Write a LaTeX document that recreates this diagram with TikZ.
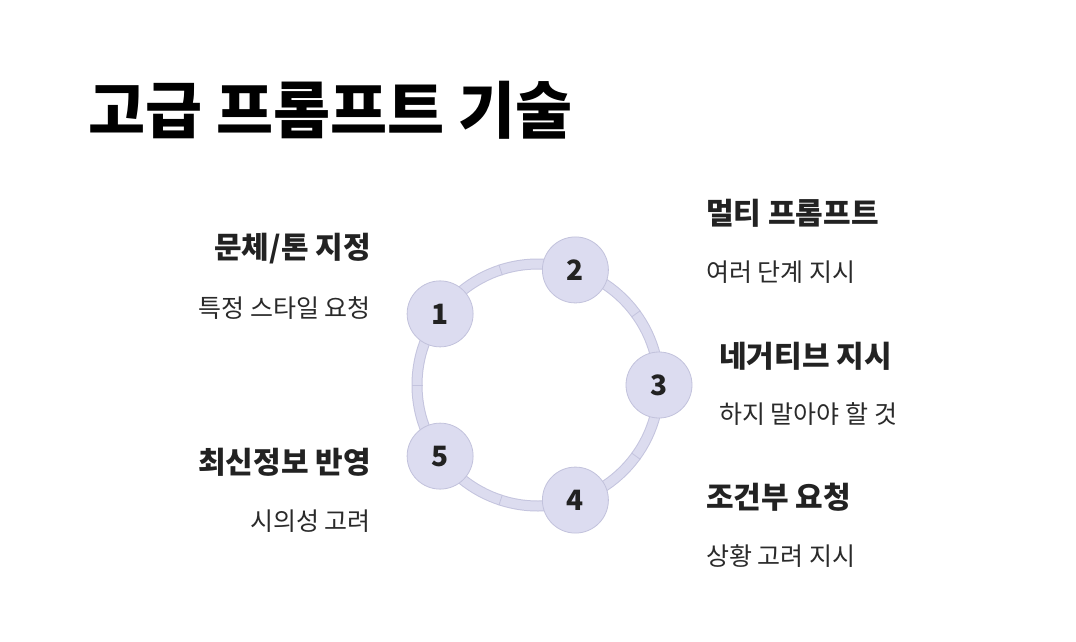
\documentclass[tikz,border=0pt]{standalone}
\usepackage{fontspec}
\usetikzlibrary{calc}
\setmainfont{Noto Sans CJK KR}
\definecolor{ringfill}{HTML}{DCDCEF}
\definecolor{ringline}{HTML}{C4C4DE}
\definecolor{nodefill}{HTML}{DCDCF0}
\definecolor{nodeline}{HTML}{C2C2DC}
\definecolor{txt}{HTML}{222222}
\definecolor{subtxt}{HTML}{2A2A2A}
\tikzset{
  stepcircle/.style={circle, minimum size=66pt, inner sep=0pt, fill=nodefill, draw=nodeline, line width=0.8pt, text=txt, font=\fontsize{28}{32}\selectfont\bfseries},
  headr/.style={anchor=east, inner sep=0pt, text=txt, font=\fontsize{30}{36}\selectfont\bfseries},
  headl/.style={anchor=west, inner sep=0pt, text=txt, font=\fontsize{30}{36}\selectfont\bfseries},
  subr/.style={anchor=east, inner sep=0pt, text=subtxt, font=\fontsize{25}{30}\selectfont},
  subl/.style={anchor=west, inner sep=0pt, text=subtxt, font=\fontsize{25}{30}\selectfont},
  ringtick/.style={draw=ringline, line width=0.8pt}
}
\begin{document}
\begin{tikzpicture}[x=1pt,y=-1pt]
\useasboundingbox[fill=white] (0,0) rectangle (1076,642);
\coordinate (c) at (538,385);
% ring band
\draw[ringline, line width=11pt] (c) circle (121pt);
\draw[ringfill, line width=9pt] (c) circle (121pt);
% ticks at midpoints
\foreach \a in {-108,-36,36,108,180}{
  \draw[ringtick] ($(c)+(\a:115.5)$) -- ($(c)+(\a:126.5)$);
}
% nodes
\node[stepcircle] (n1) at ($(c)+(-144:121)$) {1};
\node[stepcircle] (n2) at ($(c)+(-72:121)$) {2};
\node[stepcircle] (n3) at ($(c)+(0:121)$) {3};
\node[stepcircle] (n4) at ($(c)+(72:121)$) {4};
\node[stepcircle] (n5) at ($(c)+(144:121)$) {5};
% title
\node[anchor=west, inner sep=0pt, font=\fontsize{62}{70}\selectfont\bfseries] (title) at (88,110) {고급 프롬프트 기술};
% labels
\node[headr] (h1) at (371,249) {문체/톤 지정};
\node[subr] (s1) at (371,308) {특정 스타일 요청};
\node[headl] (h2) at (706,213) {멀티 프롬프트};
\node[subl] (s2) at (706,272) {여러 단계 지시};
\node[headl] (h3) at (719,356) {네거티브 지시};
\node[subl] (s3) at (719,414) {하지 말아야 할 것};
\node[headl] (h4) at (706,497) {조건부 요청};
\node[subl] (s4) at (706,556) {상황 고려 지시};
\node[headr] (h5) at (371,462) {최신정보 반영};
\node[subr] (s5) at (371,521) {시의성 고려};
\end{tikzpicture}
\end{document}
